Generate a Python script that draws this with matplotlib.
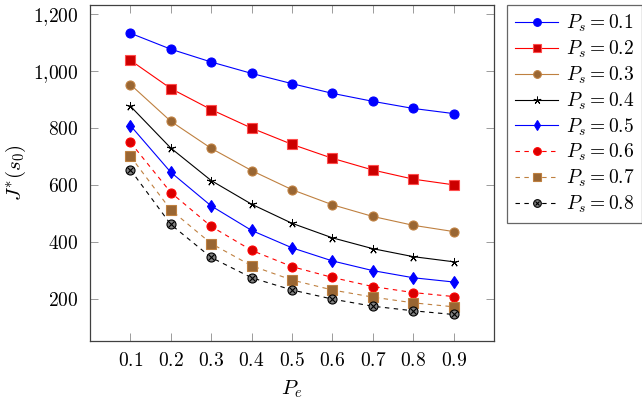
import matplotlib
matplotlib.use("Agg")
import matplotlib.pyplot as plt
from matplotlib.ticker import FixedLocator, FuncFormatter
from matplotlib.legend_handler import HandlerTuple

plt.rcParams['mathtext.fontset'] = 'cm'
plt.rcParams['font.family'] = ['DejaVu Serif']

pe = [0.1, 0.2, 0.3, 0.4, 0.5, 0.6, 0.7, 0.8, 0.9]
ps_labels = ["0.1", "0.2", "0.3", "0.4", "0.5", "0.6", "0.7", "0.8"]

j_01 = [1132, 1076, 1031, 991, 955, 921, 893, 868, 850]
j_02 = [1037, 938, 864, 799, 742, 693, 652, 620, 600]
j_03 = [952, 823, 728, 650, 583, 530, 489, 458, 436]
j_04 = [876, 729, 615, 532, 465, 414, 376, 348, 330]
j_05 = [808, 644, 526, 440, 379, 333, 299, 274, 259]
j_06 = [749, 573, 454, 370, 313, 275, 243, 222, 208]
j_07 = [700, 512, 394, 316, 266, 231, 206, 186, 172]
j_08 = [653, 461, 345, 274, 231, 199, 174, 158, 145]

series = [j_01, j_02, j_03, j_04, j_05, j_06, j_07, j_08]

xticks = [0.1, 0.2, 0.3, 0.4, 0.5, 0.6, 0.7, 0.8, 0.9]
yticks = [200, 400, 600, 800, 1000, 1200]

brown = (0.75, 0.5, 0.25)
brown_d = (0.6, 0.4, 0.2)
styles = [
    dict(color='blue', ls='-', marker='o', mfc='blue', mec='blue', ms=6.5),
    dict(color='red', ls='-', marker='s', mfc=(0.8, 0, 0), mec=(1, 0.3, 0.3), ms=6.5),
    dict(color=brown, ls='-', marker='o', mfc=brown_d, mec=brown, ms=6.5),
    dict(color='black', ls='-', marker=(5, 2, 0), mfc='black', mec='black', ms=6.5, mew=0.7),
    dict(color='blue', ls='-', marker='d', mfc='blue', mec='blue', ms=6.5),
    dict(color='red', ls=(0, (4, 4)), marker='o', mfc=(0.85, 0, 0), mec='red', ms=6.5),
    dict(color=brown, ls=(0, (4, 4)), marker='s', mfc=brown_d, mec=brown, ms=6.5),
    dict(color='black', ls=(0, (4, 4)), marker='o', mfc=(0.5, 0.5, 0.5), mec='black', ms=6.5, mew=0.8),
]

fig = plt.figure(figsize=(6.42, 4.05), dpi=100)
ax = fig.add_axes([90/642, 1-341/405, (494-90)/642, (341-5)/405])

handles = []
for i, (vals, st) in enumerate(zip(series, styles)):
    st = dict(st)
    color = st.pop('color')
    ls = st.pop('ls')
    mew = st.pop('mew', 0.8)
    h, = ax.plot(pe, vals, color=color, ls=ls, lw=0.8, mew=mew, **st, zorder=3)
    if i == 7:
        hx, = ax.plot(pe, vals, ls='none', marker='x', ms=4.2, mec='black', mew=0.8, zorder=4)
        handles.append((h, hx))
    else:
        handles.append(h)

ax.set_xlim(0.0, 1.0)
ax.set_ylim(52, 1231)
ax.xaxis.set_major_locator(FixedLocator(xticks))
ax.yaxis.set_major_locator(FixedLocator(yticks))
ax.xaxis.set_major_formatter(FuncFormatter(lambda v, p: r'$%.1f$' % v))
ax.yaxis.set_major_formatter(FuncFormatter(lambda v, p: (r'$%d{,}%03d$' % (int(v)//1000, int(v) % 1000)) if v >= 1000 else r'$%d$' % v))
ax.tick_params(direction='in', length=6, width=0.6, color=(0.55, 0.55, 0.55),
               top=True, right=True, labelsize=14, pad=8)
for s in ax.spines.values():
    s.set_color((0.25, 0.25, 0.25))
    s.set_linewidth(0.9)

ax.set_xlabel(r'$P_e$', fontsize=15, labelpad=6)
ax.set_ylabel(r'$J^{*}(s_0)$', fontsize=15, labelpad=4)

leg = ax.legend(handles, [r'$P_s = %s$' % l for l in ps_labels],
                loc='upper left', bbox_to_anchor=(507/642, 1-5/405),
                bbox_transform=fig.transFigure, borderaxespad=0,
                fontsize=14, frameon=True, fancybox=False,
                handlelength=2.2, handletextpad=0.4, labelspacing=0.23,
                borderpad=0.42, markerscale=0.85,
                handler_map={tuple: HandlerTuple(ndivide=1, pad=0)})
leg.get_frame().set_edgecolor((0.25, 0.25, 0.25))
leg.get_frame().set_linewidth(0.9)

fig.savefig('out.png', dpi=100)
